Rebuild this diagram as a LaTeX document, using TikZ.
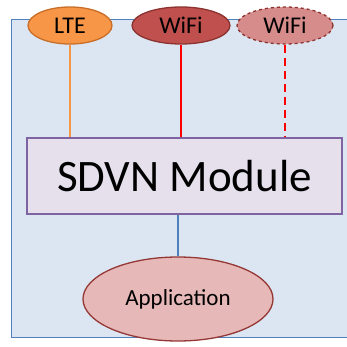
\documentclass[tikz,border=0pt]{standalone}
\usepackage{fontspec}
\setmainfont{Carlito}
\usetikzlibrary{shapes.geometric, positioning}
\definecolor{panelfill}{RGB}{220,230,242}
\definecolor{panelline}{RGB}{79,129,189}
\definecolor{ltefill}{RGB}{247,150,70}
\definecolor{lteline}{RGB}{200,110,40}
\definecolor{wififill}{RGB}{192,80,77}
\definecolor{wifiline}{RGB}{140,50,48}
\definecolor{wifipale}{RGB}{214,140,138}
\definecolor{modfill}{RGB}{229,224,236}
\definecolor{modline}{RGB}{128,100,162}
\definecolor{appfill}{RGB}{230,185,184}
\definecolor{appline}{RGB}{149,55,53}

\begin{document}
\begin{tikzpicture}[x=1pt, y=-1pt,
    radio/.style={ellipse, draw=#1, line width=1.3pt, inner sep=0pt,
                  minimum height=37pt, font=\fontsize{24}{26}\selectfont},
    link/.style={line width=2pt, draw=#1},
    module/.style={rectangle, draw=modline, fill=modfill, line width=1.3pt,
                   minimum width=315pt, minimum height=76pt, inner sep=0pt,
                   font=\fontsize{45}{50}\selectfont}
]
    \useasboundingbox (0,0) rectangle (347,347);

    % panel behind everything (runs off the right edge)
    \fill[panelfill] (11,20) rectangle (347,337);
    \draw[panelline, line width=1pt] (347,20) -- (11,20) -- (11,337) -- (347,337);

    % radios on top
    \node[radio=lteline, fill=ltefill, minimum width=84pt] (lte) at (70,25.5) {LTE};
    \node[radio=wifiline, fill=wififill, minimum width=98pt] (wifi) at (181,25.5) {WiFi};
    \node[radio=wifiline, fill=wifipale, minimum width=96pt, dashed] (wifib) at (285,25.5) {WiFi};

    % SDVN module
    \node[module] (sdvn) at (184.5,176) {SDVN Module};

    % application
    \node[ellipse, draw=appline, fill=appfill, line width=1.3pt, minimum width=190pt,
          minimum height=84pt, inner sep=0pt, font=\fontsize{23}{25}\selectfont]
          (app) at (178,299) {Application};

    % links
    \draw[link=ltefill] (lte.south) -- (lte.south |- sdvn.north);
    \draw[link=red] (wifi.south) -- (wifi.south |- sdvn.north);
    \draw[link=red, dash pattern=on 8pt off 5pt] (wifib.south) -- (wifib.south |- sdvn.north);
    \draw[link=panelline] (app.north |- sdvn.south) -- (app.north);
\end{tikzpicture}
\end{document}
